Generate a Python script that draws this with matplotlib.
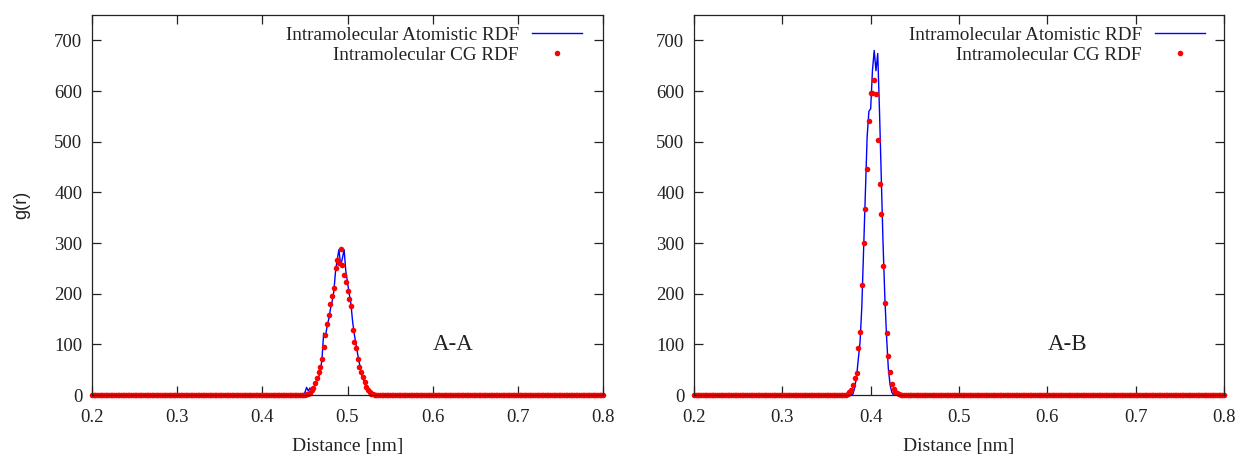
import numpy as np
import matplotlib
matplotlib.use("Agg")
import matplotlib.pyplot as plt

plt.rcParams["font.family"] = ["Liberation Serif", "DejaVu Serif"]

# Histogram grid of the radial distribution functions (nm)
r_min, r_max, dr = 0.2, 0.8, 0.002

# Non-zero bins of every g(r): first bin centre and the values from there on
aa_atom_start = 0.450
aa_atom_vals = [5, 15, 8, 14, 8, 12, 20, 28, 35, 45,
                70, 122, 115, 135, 150, 170, 185, 205, 245, 268,
                287, 255, 270, 287, 245, 222, 200, 180, 145, 120,
                100, 80, 62, 45, 33, 24, 16, 10, 5, 2]
aa_cg_start = 0.452
aa_cg_vals = [1, 2, 4, 9, 13, 23, 33, 46, 56, 72,
              95, 119, 140, 158, 179, 195, 212, 250, 267, 260,
              288, 256, 237, 224, 205, 190, 175, 128, 105, 92,
              72, 56, 46, 36, 26, 16, 10, 5, 2, 1]

ab_atom_start = 0.380
ab_atom_vals = [2, 15, 36, 70, 105, 175, 285, 400, 510, 560,
                565, 640, 680, 640, 674, 560, 430, 300, 195, 115,
                52, 20, 5, 0]
ab_cg_start = 0.374
ab_cg_vals = [2, 5, 10, 20, 34, 44, 92, 125, 217, 300,
              367, 446, 540, 596, 596, 622, 594, 504, 416, 357,
              255, 181, 123, 76, 46, 21, 12, 6, 3, 1]

pair_labels = ["A-A", "A-B"]
x_ticks = [0.2, 0.3, 0.4, 0.5, 0.6, 0.7, 0.8]
y_ticks = [0, 100, 200, 300, 400, 500, 600, 700]

r = np.round(np.arange(r_min, r_max + dr / 2, dr), 3)


def on_grid(start, vals):
    g = np.zeros_like(r)
    i0 = int(round((start - r_min) / dr))
    g[i0:i0 + len(vals)] = vals
    return g


panels = [
    (on_grid(aa_atom_start, aa_atom_vals), on_grid(aa_cg_start, aa_cg_vals)),
    (on_grid(ab_atom_start, ab_atom_vals), on_grid(ab_cg_start, ab_cg_vals)),
]

W, H = 1243, 458
fig = plt.figure(figsize=(W / 100, H / 100), dpi=100)
boxes = [(92, 603), (694, 1224)]
top, bottom = 15, 395

for k, ((x0, x1), (g_atom, g_cg), name) in enumerate(zip(boxes, panels, pair_labels)):
    ax = fig.add_axes([x0 / W, (H - bottom) / H, (x1 - x0) / W, (bottom - top) / H])
    ax.plot(r, g_atom, color="#0000ff", lw=1.0, label="Intramolecular Atomistic RDF",
            clip_on=False, zorder=2)
    ax.plot(r, g_cg, ls="none", marker="o", ms=4.0, mew=0, color="#ff0000",
            label="Intramolecular CG RDF", clip_on=False, zorder=2.2)

    ax.set_xlim(r_min, r_max)
    ax.set_ylim(0, 750)
    ax.set_xticks(x_ticks)
    ax.set_xticklabels([f"{v:.1f}" for v in x_ticks])
    ax.set_yticks(y_ticks)
    ax.tick_params(direction="in", length=6.5, width=0.9, color="#222222",
                   top=True, right=True, labelsize=13.5, labelcolor="#222222")
    ax.tick_params(axis="x", pad=10)
    ax.tick_params(axis="y", pad=7)
    for sp in ax.spines.values():
        sp.set_color("#222222")
        sp.set_linewidth(0.9)
        sp.set_zorder(3)

    ax.set_xlabel("Distance [nm]", fontsize=14, color="#222222", labelpad=9)
    if k == 0:
        ax.set_ylabel("g(r)", fontsize=13, family=["Liberation Sans", "DejaVu Sans"],
                      color="#222222", labelpad=17)

    ax.text(0.6, 100, name, fontsize=16.5, color="#222222", ha="left", va="center")

    anchor_x = 0.959 if k == 0 else 0.964
    ax.legend(loc="upper right", bbox_to_anchor=(anchor_x, 0.97), frameon=False,
              markerfirst=False, fontsize=13.8, borderpad=0, borderaxespad=0,
              handlelength=2.6, handletextpad=0.7, labelspacing=0.12,
              labelcolor="#222222", numpoints=1)

fig.savefig("out.png", dpi=100)
